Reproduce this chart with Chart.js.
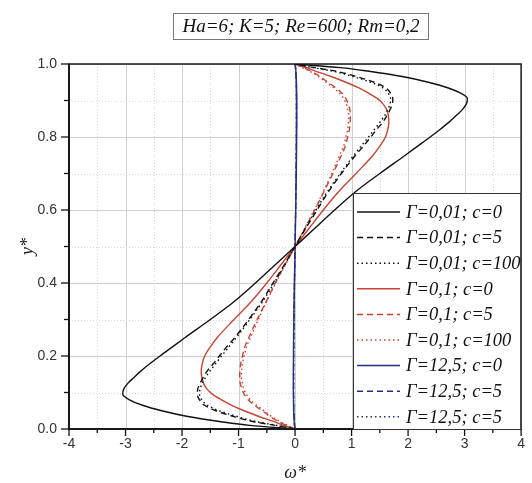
<!DOCTYPE html>
<html>
<head>
<meta charset="utf-8">
<script src="https://cdn.jsdelivr.net/npm/chart.js@4.4.0/dist/chart.umd.min.js"></script>
<style>
html,body{margin:0;padding:0;background:#fff;}
#c{display:block;}
</style>
</head>
<body>
<canvas id="c" width="532" height="483"></canvas>
<script>
// y* sample positions (ascending)
const yStar = [0, 0.01, 0.02, 0.035, 0.05, 0.065, 0.08, 0.095, 0.11, 0.125, 0.14, 0.16, 0.18, 0.2, 0.225, 0.25, 0.3, 0.35, 0.4, 0.45, 0.5,
               0.55, 0.6, 0.65, 0.7, 0.75, 0.775, 0.8, 0.82, 0.84, 0.86, 0.875, 0.89, 0.905, 0.92, 0.935, 0.95, 0.965, 0.98, 0.99, 1.0];

// omega* values
const g001c0 = [0, -0.8, -1.31, -1.92, -2.36, -2.7, -2.93, -3.05, -3.03, -2.96, -2.86, -2.72, -2.56, -2.39, -2.17, -1.95, -1.5, -1.07, -0.7, -0.35, 0,
                0.35, 0.7, 1.07, 1.5, 1.95, 2.17, 2.39, 2.56, 2.72, 2.86, 2.96, 3.03, 3.05, 2.93, 2.7, 2.36, 1.92, 1.31, 0.8, 0];
const g001c5 = [0, -0.35, -0.73, -1.1, -1.4, -1.6, -1.69, -1.73, -1.72, -1.68, -1.63, -1.55, -1.44, -1.34, -1.21, -1.07, -0.82, -0.59, -0.39, -0.19, 0,
                0.19, 0.39, 0.59, 0.82, 1.07, 1.21, 1.34, 1.44, 1.55, 1.63, 1.68, 1.72, 1.73, 1.69, 1.6, 1.4, 1.1, 0.73, 0.35, 0];
const g001c100 = [0, -0.32, -0.68, -1.04, -1.34, -1.55, -1.65, -1.69, -1.68, -1.64, -1.59, -1.5, -1.4, -1.3, -1.17, -1.04, -0.8, -0.57, -0.37, -0.18, 0,
                0.18, 0.37, 0.57, 0.8, 1.04, 1.17, 1.3, 1.4, 1.5, 1.59, 1.64, 1.68, 1.69, 1.65, 1.55, 1.34, 1.04, 0.68, 0.32, 0];
const g01c0 = [0, -0.2, -0.37, -0.65, -0.9, -1.12, -1.3, -1.46, -1.56, -1.62, -1.65, -1.66, -1.64, -1.6, -1.5, -1.38, -1.08, -0.77, -0.5, -0.25, 0,
               0.25, 0.5, 0.77, 1.08, 1.38, 1.5, 1.6, 1.64, 1.66, 1.65, 1.62, 1.56, 1.46, 1.3, 1.12, 0.9, 0.65, 0.37, 0.2, 0];
const g01c5 = [0, -0.15, -0.29, -0.45, -0.58, -0.72, -0.83, -0.9, -0.94, -0.97, -0.98, -0.975, -0.96, -0.93, -0.89, -0.82, -0.67, -0.51, -0.35, -0.18, 0,
               0.18, 0.35, 0.51, 0.67, 0.82, 0.89, 0.93, 0.96, 0.975, 0.98, 0.97, 0.94, 0.9, 0.83, 0.72, 0.58, 0.45, 0.29, 0.15, 0];
const g01c100 = [0, -0.13, -0.26, -0.42, -0.55, -0.68, -0.79, -0.86, -0.91, -0.93, -0.95, -0.945, -0.93, -0.9, -0.86, -0.79, -0.65, -0.5, -0.34, -0.17, 0,
               0.17, 0.34, 0.5, 0.65, 0.79, 0.86, 0.9, 0.93, 0.945, 0.95, 0.93, 0.91, 0.86, 0.79, 0.68, 0.55, 0.42, 0.26, 0.13, 0];
const g125c0 = [0, -0.01, -0.015, -0.02, -0.025, -0.027, -0.028, -0.029, -0.03, -0.03, -0.03, -0.03, -0.029, -0.028, -0.027, -0.026, -0.022, -0.017, -0.012, -0.006, 0,
               0.006, 0.012, 0.017, 0.022, 0.026, 0.027, 0.028, 0.029, 0.03, 0.03, 0.03, 0.03, 0.029, 0.028, 0.027, 0.025, 0.02, 0.015, 0.01, 0];
const g125c5 = [0, -0.008, -0.013, -0.018, -0.022, -0.024, -0.025, -0.026, -0.026, -0.026, -0.026, -0.026, -0.025, -0.024, -0.023, -0.022, -0.019, -0.015, -0.01, -0.005, 0,
               0.005, 0.01, 0.015, 0.019, 0.022, 0.023, 0.024, 0.025, 0.026, 0.026, 0.026, 0.026, 0.026, 0.025, 0.024, 0.022, 0.018, 0.013, 0.008, 0];
const g125c5b = [0, -0.007, -0.012, -0.017, -0.021, -0.023, -0.024, -0.025, -0.025, -0.025, -0.025, -0.025, -0.024, -0.023, -0.022, -0.021, -0.018, -0.014, -0.01, -0.005, 0,
               0.005, 0.01, 0.014, 0.018, 0.021, 0.022, 0.023, 0.024, 0.025, 0.025, 0.025, 0.025, 0.025, 0.024, 0.023, 0.021, 0.017, 0.012, 0.007, 0];

const seriesLabels = ['Γ=0,01; c=0', 'Γ=0,01; c=5', 'Γ=0,01; c=100', 'Γ=0,1; c=0', 'Γ=0,1; c=5', 'Γ=0,1; c=100', 'Γ=12,5; c=0', 'Γ=12,5; c=5', 'Γ=12,5; c=5'];
const seriesValues = [g001c0, g001c5, g001c100, g01c0, g01c5, g01c100, g125c0, g125c5, g125c5b];
const xTicks = [-4, -3, -2, -1, 0, 1, 2, 3, 4];
const yTicks = [0.0, 0.2, 0.4, 0.6, 0.8, 1.0];
const chartTitle = 'Ha=6; K=5; Re=600; Rm=0,2';

const BLACK = '#111111', RED = '#c44536', BLUE = '#26307e';
const colors = [BLACK, BLACK, BLACK, RED, RED, RED, BLUE, BLUE, BLUE];
const dashes = [[], [6, 4], [1.5, 3], [], [6, 4], [1.5, 3], [], [6, 4], [1.5, 3]];

const datasets = seriesValues.map((vals, i) => ({
  label: seriesLabels[i],
  data: vals.map((w, k) => ({x: w, y: yStar[k]})),
  showLine: true,
  borderColor: colors[i],
  backgroundColor: colors[i],
  borderWidth: 1.4,
  borderDash: dashes[i],
  pointRadius: 0,
  cubicInterpolationMode: 'monotone',
  fill: false
}));

const SERIF = '"Liberation Serif", "Times New Roman", serif';
const SANS = '"Liberation Sans", Arial, sans-serif';

const decor = {
  id: 'decor',
  beforeDatasetsDraw(chart) {
    const {ctx, chartArea: a, scales: {x, y}} = chart;
    ctx.save();
    ctx.strokeStyle = '#d8d8d8';
    ctx.lineWidth = 1;
    ctx.setLineDash([1, 2]);
    for (let v = -3.5; v < 4; v += 1) {
      const px = Math.round(x.getPixelForValue(v)) + 0.5;
      ctx.beginPath(); ctx.moveTo(px, a.top); ctx.lineTo(px, a.bottom); ctx.stroke();
    }
    for (let v = 0.1; v < 1; v += 0.2) {
      const py = Math.round(y.getPixelForValue(v)) + 0.5;
      ctx.beginPath(); ctx.moveTo(a.left, py); ctx.lineTo(a.right, py); ctx.stroke();
    }
    ctx.setLineDash([]);
    ctx.strokeStyle = '#cfcfcf';
    xTicks.forEach(v => {
      const px = Math.round(x.getPixelForValue(v)) + 0.5;
      ctx.beginPath(); ctx.moveTo(px, a.top); ctx.lineTo(px, a.bottom); ctx.stroke();
    });
    yTicks.forEach(v => {
      const py = Math.round(y.getPixelForValue(v)) + 0.5;
      ctx.beginPath(); ctx.moveTo(a.left, py); ctx.lineTo(a.right, py); ctx.stroke();
    });
    ctx.restore();
  },
  afterDatasetsDraw(chart) {
    const {ctx, chartArea: a, scales: {x, y}} = chart;
    ctx.save();
    ctx.strokeStyle = '#1a1a1a';
    ctx.lineWidth = 1.5;
    ctx.strokeRect(a.left, a.top, a.right - a.left, a.bottom - a.top);
    ctx.lineWidth = 2;
    ctx.beginPath(); ctx.moveTo(a.left, a.top); ctx.lineTo(a.left, a.bottom); ctx.lineTo(a.right, a.bottom); ctx.stroke();
    ctx.lineWidth = 1.3;
    ctx.strokeStyle = '#111';
    xTicks.forEach(v => {
      const px = x.getPixelForValue(v);
      ctx.beginPath(); ctx.moveTo(px, a.bottom); ctx.lineTo(px, a.bottom + 7); ctx.stroke();
    });
    for (let v = -3.5; v < 4; v += 1) {
      const px = x.getPixelForValue(v);
      ctx.beginPath(); ctx.moveTo(px, a.bottom); ctx.lineTo(px, a.bottom + 4); ctx.stroke();
    }
    yTicks.forEach(v => {
      const py = y.getPixelForValue(v);
      ctx.beginPath(); ctx.moveTo(a.left, py); ctx.lineTo(a.left - 8, py); ctx.stroke();
    });
    for (let v = 0.1; v < 1; v += 0.2) {
      const py = y.getPixelForValue(v);
      ctx.beginPath(); ctx.moveTo(a.left, py); ctx.lineTo(a.left - 5, py); ctx.stroke();
    }
    // legend box
    const lx = 353, ly = 193, lw = a.right - lx, lh = a.bottom - ly;
    ctx.fillStyle = '#fff';
    ctx.fillRect(lx, ly, lw, lh);
    ctx.strokeStyle = '#333';
    ctx.lineWidth = 1;
    ctx.strokeRect(lx + 0.5, ly + 0.5, lw - 1, lh);
    ctx.font = 'italic 18.5px ' + SERIF;
    ctx.textBaseline = 'middle';
    ctx.textAlign = 'left';
    seriesLabels.forEach((lab, i) => {
      const cy = 212 + i * 25.6;
      ctx.strokeStyle = colors[i];
      ctx.lineWidth = 1.5;
      ctx.setLineDash(dashes[i]);
      ctx.beginPath(); ctx.moveTo(357, cy); ctx.lineTo(400, cy); ctx.stroke();
      ctx.setLineDash([]);
      ctx.fillStyle = '#111';
      ctx.fillText(lab, 406, cy + 1);
    });
    // title box
    ctx.strokeStyle = '#777';
    ctx.lineWidth = 1;
    ctx.strokeRect(173.5, 13.5, 255, 26);
    ctx.fillStyle = '#111';
    ctx.font = 'italic 19px ' + SERIF;
    ctx.textAlign = 'center';
    ctx.fillText(chartTitle, 301, 27);
    ctx.restore();
  }
};

new Chart(document.getElementById('c'), {
  type: 'scatter',
  data: {datasets},
  options: {
    indexAxis: 'y',
    responsive: false,
    animation: false,
    devicePixelRatio: 1,
    layout: {padding: {top: 64, right: 6, left: 0, bottom: 0}},
    plugins: {legend: {display: false}, tooltip: {enabled: false}, title: {display: false}},
    scales: {
      x: {
        type: 'linear', position: 'bottom', min: -4, max: 4,
        afterBuildTicks: s => { s.ticks = xTicks.map(v => ({value: v})); },
        ticks: {font: {family: SANS, size: 14}, color: '#333', padding: 7, callback: v => String(v)},
        grid: {display: false, drawTicks: false},
        border: {display: false},
        title: {display: true, text: 'ω*', font: {family: SERIF, style: 'italic', size: 18, lineHeight: 1}, color: '#222', padding: {top: 0, bottom: 1}},
        afterFit: s => { s.height = 54; }
      },
      y: {
        type: 'linear', position: 'left', min: 0, max: 1,
        afterBuildTicks: s => { s.ticks = yTicks.map(v => ({value: v})); },
        ticks: {font: {family: SANS, size: 14}, color: '#333', padding: 12, callback: v => Number(v).toFixed(1)},
        grid: {display: false, drawTicks: false},
        border: {display: false},
        title: {display: true, text: 'y*', font: {family: SERIF, style: 'italic', size: 18, lineHeight: 1}, color: '#222', padding: {top: 19, bottom: 0}},
        afterFit: s => { s.width = 69; }
      }
    }
  },
  plugins: [decor]
});
</script>
</body>
</html>
